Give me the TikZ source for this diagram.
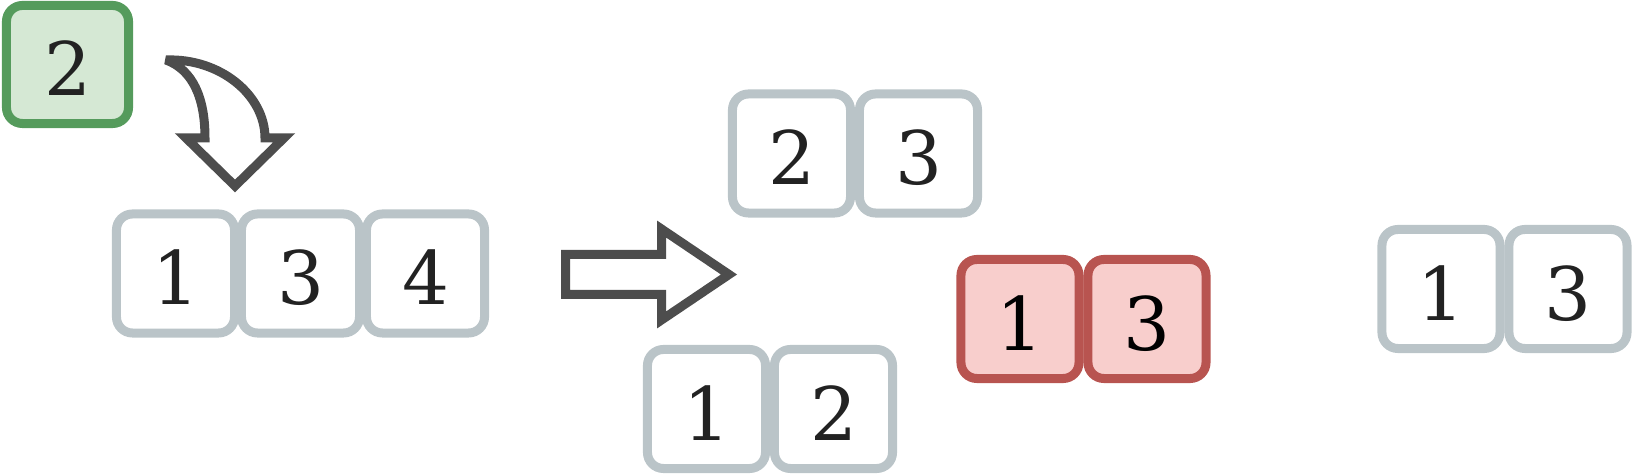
\documentclass[tikz,border=0pt]{standalone}
\usepackage{fontspec}
\setmainfont{DejaVu Serif}
\usetikzlibrary{positioning}
\definecolor{cellgray}{HTML}{BAC4C8}
\definecolor{keepgreen}{HTML}{D5E8D4}
\definecolor{keepgreenline}{HTML}{559B5C}
\definecolor{dropred}{HTML}{F8CECC}
\definecolor{dropredline}{HTML}{B85450}
\definecolor{arrowgray}{HTML}{4D4D4D}
\definecolor{digit}{HTML}{222222}

\begin{document}
\begin{tikzpicture}[x=0.01cm,y=-0.01cm,
	cell/.style={draw=cellgray,fill=white,line width=0.09cm,rounded corners=0.16cm,
		minimum width=1.18cm,minimum height=1.19cm,inner sep=0pt,text=digit,
		text height=0.62cm,text depth=0cm,font=\fontsize{21}{21}\selectfont},
	greencell/.style={cell,draw=keepgreenline,fill=keepgreen,minimum width=1.22cm,minimum height=1.18cm},
	redcell/.style={cell,draw=dropredline,fill=dropred,text=black},
	blockarrow/.style={draw=arrowgray,fill=white,line width=0.09cm,line join=miter,miter limit=3}]
	\useasboundingbox (0,0) rectangle (1632,474);
	% element a inserer
	\node [greencell] (new) at (67.5,64.5) {2};
	% ensemble de depart
	\node [cell] (s1) at (175.5,273.5) {1};
	\node [cell] (s3) at (300.5,273.5) {3};
	\node [cell] (s4) at (425.5,273.5) {4};
	% fleche courbe
	\draw [blockarrow] (166,60) .. controls (220,58) and (265,95) .. (265,138)
		-- (284,138) -- (235,186) -- (186,138) -- (205,138)
		.. controls (205,98) and (193,70) .. (166,60) -- cycle;
	% grosse fleche
	\draw [blockarrow] (565.5,254.5) -- (661.5,254.5) -- (661.5,229) -- (729,274.5)
		-- (661.5,320) -- (661.5,294.5) -- (565.5,294.5) -- cycle;
	% sous-ensembles
	\node [cell] (t2) at (791.5,153.5) {2};
	\node [cell] (t3) at (918.5,153.5) {3};
	\node [cell] (b1) at (706.5,409) {1};
	\node [cell] (b2) at (833.5,409) {2};
	\node [redcell] (r1) at (1020,319) {1};
	\node [redcell] (r3) at (1147,319) {3};
	\node [cell] (f1) at (1441,289) {1};
	\node [cell] (f3) at (1568,289) {3};
\end{tikzpicture}
\end{document}
